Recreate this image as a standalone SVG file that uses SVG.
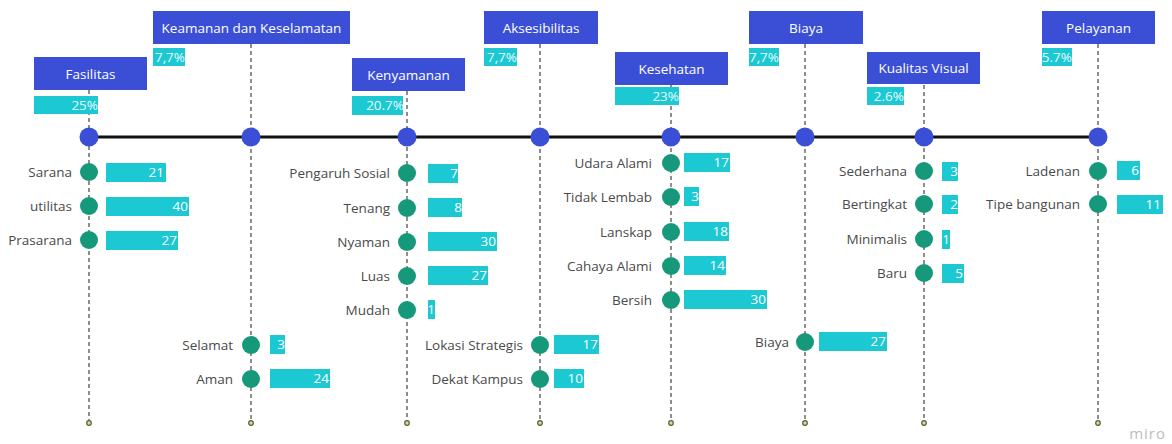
<svg xmlns="http://www.w3.org/2000/svg" width="1172" height="444" viewBox="0 0 1172 444">
<style>
.hd{fill:#3b4fd6}
.hdt{fill:#fff;font-family:"Open Sans",sans-serif;font-size:13.5px;text-anchor:middle}
.pc{fill:#1cc8d2}
.pct{fill:#eafcff;font-family:"Open Sans",sans-serif;font-size:13.5px;text-anchor:end}
.dash{stroke:#6a6a6a;stroke-width:1.5;stroke-dasharray:4 3;fill:none}
.end{fill:#d8d8a8;stroke:#5c5c32;stroke-width:1.2}
.hub{fill:#3b4fd6}
.it{fill:#16997b}
.bar{fill:#1cc8d2}
.bt{fill:#fff;font-family:"Open Sans",sans-serif;font-size:13.5px;text-anchor:end}
.lb{fill:#4a4a4a;font-family:"Open Sans",sans-serif;font-size:13.5px;text-anchor:end}
</style>
<rect width="1172" height="444" fill="#fff"/>
<g id="connectors">
<line class="dash" x1="89" y1="90" x2="89" y2="420"/>
<line class="dash" x1="251" y1="44" x2="251" y2="420"/>
<line class="dash" x1="407" y1="91" x2="407" y2="420"/>
<line class="dash" x1="540" y1="44" x2="540" y2="420"/>
<line class="dash" x1="671" y1="85" x2="671" y2="420"/>
<line class="dash" x1="805" y1="44" x2="805" y2="420"/>
<line class="dash" x1="924" y1="85" x2="924" y2="420"/>
<line class="dash" x1="1098" y1="44" x2="1098" y2="420"/>
<line x1="89" y1="137" x2="1098" y2="137" stroke="#111" stroke-width="3"/>
<circle class="end" cx="89" cy="423" r="2.3"/>
<circle class="end" cx="251" cy="423" r="2.3"/>
<circle class="end" cx="407" cy="423" r="2.3"/>
<circle class="end" cx="540" cy="423" r="2.3"/>
<circle class="end" cx="671" cy="423" r="2.3"/>
<circle class="end" cx="805" cy="423" r="2.3"/>
<circle class="end" cx="924" cy="423" r="2.3"/>
<circle class="end" cx="1098" cy="423" r="2.3"/>
</g>
<g id="fasilitas">
<rect class="hd" x="34" y="57" width="113" height="33"/>
<text class="hdt" x="90.5" y="78.5">Fasilitas</text>
<rect class="pc" x="34" y="96" width="64" height="18"/>
<text class="pct" x="98" y="110">25%</text>
<circle class="hub" cx="89" cy="137" r="9.5"/>
<circle class="it" cx="89" cy="172" r="9"/><rect class="bar" x="106" y="163" width="60" height="19"/><text class="bt" x="164" y="177">21</text><text class="lb" x="72" y="177">Sarana</text>
<circle class="it" cx="89" cy="206" r="9"/><rect class="bar" x="106" y="197" width="83" height="19"/><text class="bt" x="188" y="211">40</text><text class="lb" x="72" y="211">utilitas</text>
<circle class="it" cx="89" cy="240" r="9"/><rect class="bar" x="106" y="231" width="72" height="19"/><text class="bt" x="177" y="245">27</text><text class="lb" x="72" y="245">Prasarana</text>
</g>
<g id="keamanan">
<rect class="hd" x="153" y="11" width="197" height="33"/>
<text class="hdt" x="251.5" y="32.5">Keamanan dan Keselamatan</text>
<rect class="pc" x="153" y="48" width="32" height="18"/>
<text class="pct" x="185" y="62">7,7%</text>
<circle class="hub" cx="251" cy="137" r="9.5"/>
<circle class="it" cx="251" cy="345" r="9"/><rect class="bar" x="270" y="335" width="15" height="19"/><text class="bt" x="285" y="349">3</text><text class="lb" x="233" y="350">Selamat</text>
<circle class="it" cx="251" cy="379" r="9"/><rect class="bar" x="270" y="369" width="60" height="19"/><text class="bt" x="329" y="383">24</text><text class="lb" x="233" y="384">Aman</text>
</g>
<g id="kenyamanan">
<rect class="hd" x="352" y="58" width="113" height="33"/>
<text class="hdt" x="408.5" y="79.5">Kenyamanan</text>
<rect class="pc" x="352" y="96" width="51" height="19"/>
<text class="pct" x="404" y="110">20.7%</text>
<circle class="hub" cx="407" cy="137" r="9.5"/>
<circle class="it" cx="407" cy="173" r="9"/><rect class="bar" x="428" y="164" width="30" height="19"/><text class="bt" x="458" y="178">7</text><text class="lb" x="390" y="178">Pengaruh Sosial</text>
<circle class="it" cx="407" cy="208" r="9"/><rect class="bar" x="428" y="198" width="34" height="19"/><text class="bt" x="462" y="212">8</text><text class="lb" x="390" y="213">Tenang</text>
<circle class="it" cx="407" cy="242" r="9"/><rect class="bar" x="428" y="232" width="69" height="19"/><text class="bt" x="496" y="246">30</text><text class="lb" x="390" y="247">Nyaman</text>
<circle class="it" cx="407" cy="276" r="9"/><rect class="bar" x="428" y="266" width="60" height="19"/><text class="bt" x="487" y="280">27</text><text class="lb" x="390" y="281">Luas</text>
<circle class="it" cx="407" cy="310" r="9"/><rect class="bar" x="428" y="300" width="7" height="19"/><text class="bt" x="435" y="314">1</text><text class="lb" x="390" y="315">Mudah</text>
</g>
<g id="aksesibilitas">
<rect class="hd" x="484" y="11" width="114" height="33"/>
<text class="hdt" x="541" y="32.5">Aksesibilitas</text>
<rect class="pc" x="484" y="48" width="33" height="18"/>
<text class="pct" x="517" y="62">7,7%</text>
<circle class="hub" cx="540" cy="137" r="9.5"/>
<circle class="it" cx="540" cy="345" r="9"/><rect class="bar" x="554" y="335" width="45" height="19"/><text class="bt" x="598" y="349">17</text><text class="lb" x="523" y="350">Lokasi Strategis</text>
<circle class="it" cx="540" cy="379" r="9"/><rect class="bar" x="554" y="369" width="30" height="19"/><text class="bt" x="583" y="383">10</text><text class="lb" x="523" y="384">Dekat Kampus</text>
</g>
<g id="kesehatan">
<rect class="hd" x="615" y="52" width="113" height="33"/>
<text class="hdt" x="671.5" y="73.5">Kesehatan</text>
<rect class="pc" x="615" y="87" width="64" height="18"/>
<text class="pct" x="679" y="101">23%</text>
<circle class="hub" cx="671" cy="137" r="9.5"/>
<circle class="it" cx="671" cy="163" r="9"/><rect class="bar" x="684" y="153" width="46" height="19"/><text class="bt" x="729" y="167">17</text><text class="lb" x="652" y="168">Udara Alami</text>
<circle class="it" cx="671" cy="197" r="9"/><rect class="bar" x="684" y="187" width="15" height="19"/><text class="bt" x="699" y="201">3</text><text class="lb" x="652" y="202">Tidak Lembab</text>
<circle class="it" cx="671" cy="232" r="9"/><rect class="bar" x="684" y="222" width="45" height="19"/><text class="bt" x="728" y="236">18</text><text class="lb" x="652" y="237">Lanskap</text>
<circle class="it" cx="671" cy="266" r="9"/><rect class="bar" x="684" y="256" width="42" height="19"/><text class="bt" x="725" y="270">14</text><text class="lb" x="652" y="271">Cahaya Alami</text>
<circle class="it" cx="671" cy="300" r="9"/><rect class="bar" x="684" y="290" width="83" height="19"/><text class="bt" x="766" y="304">30</text><text class="lb" x="652" y="305">Bersih</text>
</g>
<g id="biaya">
<rect class="hd" x="749" y="11" width="114" height="33"/>
<text class="hdt" x="806" y="32.5">Biaya</text>
<rect class="pc" x="749" y="48" width="30" height="18"/>
<text class="pct" x="779" y="62">7,7%</text>
<circle class="hub" cx="805" cy="137" r="9.5"/>
<circle class="it" cx="805" cy="342" r="9"/><rect class="bar" x="819" y="332" width="68" height="19"/><text class="bt" x="886" y="346">27</text><text class="lb" x="789" y="347">Biaya</text>
</g>
<g id="kualitas-visual">
<rect class="hd" x="867" y="52" width="113" height="32"/>
<text class="hdt" x="923.5" y="73">Kualitas Visual</text>
<rect class="pc" x="867" y="87" width="37" height="18"/>
<text class="pct" x="904" y="101">2.6%</text>
<circle class="hub" cx="924" cy="137" r="9.5"/>
<circle class="it" cx="924" cy="171" r="9"/><rect class="bar" x="942" y="162" width="16" height="19"/><text class="bt" x="958" y="176">3</text><text class="lb" x="907" y="176">Sederhana</text>
<circle class="it" cx="924" cy="204" r="9"/><rect class="bar" x="942" y="195" width="16" height="19"/><text class="bt" x="958" y="209">2</text><text class="lb" x="907" y="209">Bertingkat</text>
<circle class="it" cx="924" cy="239" r="9"/><rect class="bar" x="942" y="230" width="8" height="19"/><text class="bt" x="950" y="244">1</text><text class="lb" x="907" y="244">Minimalis</text>
<circle class="it" cx="924" cy="273" r="9"/><rect class="bar" x="942" y="264" width="22" height="19"/><text class="bt" x="963" y="278">5</text><text class="lb" x="907" y="278">Baru</text>
</g>
<g id="pelayanan">
<rect class="hd" x="1042" y="11" width="113" height="33"/>
<text class="hdt" x="1098.5" y="32.5">Pelayanan</text>
<rect class="pc" x="1042" y="48" width="30" height="18"/>
<text class="pct" x="1072" y="62">5.7%</text>
<circle class="hub" cx="1098" cy="137" r="9.5"/>
<circle class="it" cx="1098" cy="171" r="9"/><rect class="bar" x="1117" y="161" width="23" height="19"/><text class="bt" x="1139" y="175">6</text><text class="lb" x="1080" y="176">Ladenan</text>
<circle class="it" cx="1098" cy="204" r="9"/><rect class="bar" x="1117" y="195" width="46" height="19"/><text class="bt" x="1161" y="209">11</text><text class="lb" x="1080" y="209">Tipe bangunan</text>
</g>
<text x="1166" y="439" fill="#bdbdbd" font-family="'Open Sans',sans-serif" font-size="15" text-anchor="end" letter-spacing="1">miro</text>
</svg>
